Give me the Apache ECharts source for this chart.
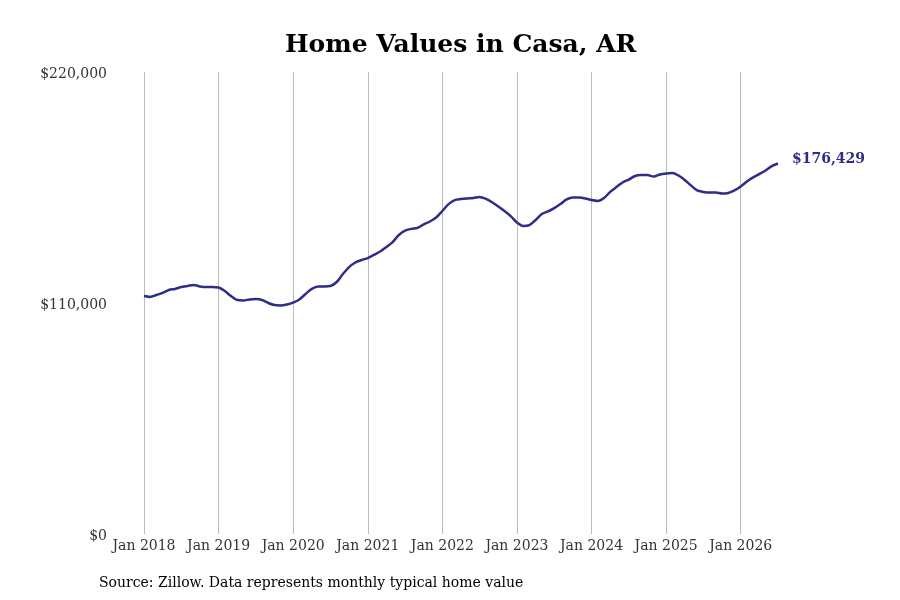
<!DOCTYPE html>
<html>
<head>
<meta charset="utf-8">
<script src="https://cdn.jsdelivr.net/npm/echarts@6/dist/echarts.min.js"></script>
<style>html,body{margin:0;padding:0;background:#fff}#c{width:900px;height:600px}</style>
</head>
<body>
<div id="c"></div>
<script>
var years = ['2018','2019','2020','2021','2022','2023','2024','2025','2026'];
var monthNames = ['Jan','Feb','Mar','Apr','May','Jun','Jul','Aug','Sep','Oct','Nov','Dec'];
var v2018 = [113300,112900,113800,114800,116200,116700,117600,118100,118600,117900,117600,117600];
var v2019 = [117400,115700,113300,111400,111200,111700,111900,111400,110000,109000,108800,109300];
var v2020 = [110200,111700,114300,116700,117900,117900,118100,120000,123800,127100,129300,130500];
var v2021 = [131400,132900,134500,136700,139000,142400,144500,145300,145800,147400,148800,150700];
var v2022 = [153800,157100,159000,159500,159800,160000,160500,159600,158000,156000,153800,151400];
var v2023 = [148300,146700,147100,149500,152400,153600,155200,157100,159300,160200,160200,159800];
var v2024 = [159000,158600,160000,162900,165200,167400,168800,170500,170900,170900,170200,171200];
var v2025 = [171700,171900,170700,168600,166000,163600,162900,162600,162600,162100,162400,163600];
var v2026 = [165500,167900,169800,171400,173100,175200,176429];
var yTicks = [0, 110000, 220000];

var values = [].concat(v2018, v2019, v2020, v2021, v2022, v2023, v2024, v2025, v2026);
var categories = [];
years.forEach(function (y) { monthNames.forEach(function (m) { categories.push(m + ' ' + y); }); });
categories = categories.slice(0, values.length);

function fmtMoney(v) { return '$' + Math.round(v).toString().replace(/\B(?=(\d{3})+(?!\d))/g, ','); }

var FONT = 'DejaVu Serif';
var chart = echarts.init(document.getElementById('c'));
chart.setOption({
  backgroundColor: '#ffffff',
  animation: false,
  title: {
    text: 'Home Values in Casa, AR',
    left: 280, top: 28,
    textStyle: { fontFamily: FONT, fontWeight: 'bold', fontSize: 25, color: '#000' }
  },
  grid: { left: 144, right: 122, top: 72, bottom: 66, containLabel: false },
  xAxis: {
    type: 'category',
    data: categories,
    boundaryGap: false,
    axisLine: { show: false },
    axisTick: { show: false },
    axisLabel: {
      interval: function (i, v) { return v.indexOf('Jan') === 0; },
      fontFamily: FONT, fontSize: 14, color: '#333', margin: 5
    },
    splitLine: {
      show: true,
      interval: function (i, v) { return v.indexOf('Jan') === 0; },
      lineStyle: { color: '#bbbbbb', width: 1 }
    }
  },
  yAxis: {
    type: 'value',
    min: yTicks[0], max: yTicks[2], interval: yTicks[1],
    axisLine: { show: false },
    axisTick: { show: false },
    splitLine: { show: false },
    axisLabel: {
      formatter: function (v) { return '{a|' + fmtMoney(v) + '}'; },
      margin: 37,
      rich: { a: { fontFamily: FONT, fontSize: 14, color: '#333', padding: [4, 0, 0, 0] } }
    }
  },
  series: [{
    type: 'line',
    data: values,
    smooth: 0.3,
    symbol: 'none',
    lineStyle: { color: '#2e2d88', width: 2.5 },
    endLabel: {
      show: true,
      formatter: function (p) { return fmtMoney(p.value); },
      fontFamily: FONT, fontWeight: 'bold', fontSize: 14, color: '#2e2d88',
      distance: 14, offset: [0, -4]
    }
  }],
  graphic: [{
    type: 'text', left: 99, top: 576,
    style: { text: 'Source: Zillow. Data represents monthly typical home value', font: '14px "DejaVu Serif"', fill: '#000' }
  }]
});
</script>
</body>
</html>
